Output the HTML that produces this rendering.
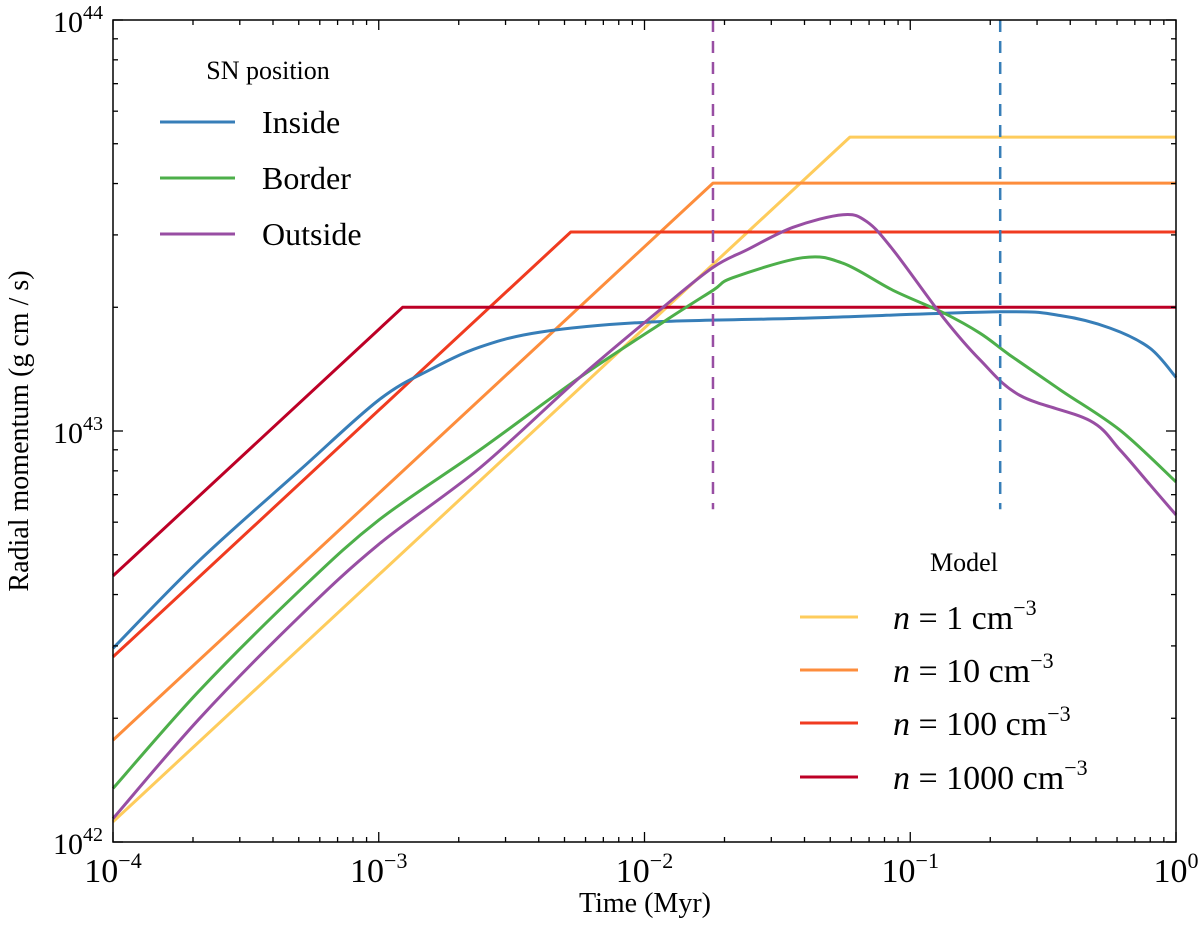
<!DOCTYPE html>
<html><head><meta charset="utf-8"><style>
body{margin:0;background:#fff;overflow:hidden}
svg text{font-family:"Liberation Serif",serif;fill:#000}
</style></head><body>
<svg id="chart" width="1200" height="927" xmlns="http://www.w3.org/2000/svg"></svg>
<script>
const xTickExps=[-4,-3,-2,-1,0];
const yTickExps=[42,43,44];
const insideT=[1e-4,2.12e-4,5.06e-4,1e-3,1.56e-3,2.4e-3,4.05e-3,1.02e-2,0.0385,0.218,0.366,0.565,0.798,1];
const insideP=[2.96e42,4.85e42,8.04e42,1.19e43,1.41e43,1.60e43,1.74e43,1.84e43,1.88e43,1.95e43,1.91e43,1.78e43,1.59e43,1.35e43];
const borderT=[1e-4,2.12e-4,5.06e-4,1e-3,2.4e-3,5.71e-3,0.01175,0.0181,0.0215,0.0394,0.0558,0.0861,0.133,0.183,0.237,0.366,0.615,1];
const borderP=[1.35e42,2.34e42,4.10e42,6.07e42,8.99e42,1.35e43,1.84e43,2.20e43,2.36e43,2.64e43,2.56e43,2.20e43,1.94e43,1.73e43,1.53e43,1.26e43,1.005e43,7.52e42];
const outsideT=[1e-4,2.12e-4,5.06e-4,1e-3,2.4e-3,5.71e-3,0.01175,0.0181,0.0243,0.0362,0.0558,0.0687,0.0861,0.133,0.183,0.259,0.474,0.615,0.798,1];
const outsideP=[1.14e42,2.00e42,3.55e42,5.30e42,8.13e42,1.35e43,2.0e43,2.50e43,2.76e43,3.13e43,3.36e43,3.23e43,2.76e43,1.89e43,1.49e43,1.22e43,1.06e43,9.0e42,7.40e42,6.25e42];
const n1T=[1e-4,0.0593,1],n1P=[1.12e42,5.19e43,5.19e43];
const n10T=[1e-4,0.0181,1],n10P=[1.77e42,4.01e43,4.01e43];
const n100T=[1e-4,0.00528,1],n100P=[2.82e42,3.05e43,3.05e43];
const n1000T=[1e-4,0.00123,1],n1000P=[4.44e42,2.0e43,2.0e43];
const vlineT=[0.0181,0.218];
const vlineTopP=1e44, vlineBotP=6.45e42;

const L=113,R=1176,T=20,B=842;
const xs=t=>L+(Math.log10(t)+4)/4*(R-L);
const ys=p=>B-(Math.log10(p)-42)/2*(B-T);
const svg=document.getElementById('chart');
const NS='http://www.w3.org/2000/svg';
function mk(tag,attrs,parent){const e=document.createElementNS(NS,tag);for(const k in attrs)e.setAttribute(k,attrs[k]);(parent||svg).appendChild(e);return e;}

const plot=mk('g',{});


function pathStr(T_,P_,smooth){
  const pts=T_.map((t,i)=>[xs(t),ys(P_[i])]);
  if(!smooth) return pts.map((p,i)=>(i?'L':'M')+p[0].toFixed(1)+','+p[1].toFixed(1)).join(' ');
  let d='M'+pts[0][0].toFixed(1)+','+pts[0][1].toFixed(1);
  for(let i=0;i<pts.length-1;i++){
    const p0=pts[Math.max(0,i-1)],p1=pts[i],p2=pts[i+1],p3=pts[Math.min(pts.length-1,i+2)];
    const c1=[p1[0]+(p2[0]-p0[0])/6,p1[1]+(p2[1]-p0[1])/6];
    const c2=[p2[0]-(p3[0]-p1[0])/6,p2[1]-(p3[1]-p1[1])/6];
    d+=' C'+c1[0].toFixed(1)+','+c1[1].toFixed(1)+' '+c2[0].toFixed(1)+','+c2[1].toFixed(1)+' '+p2[0].toFixed(1)+','+p2[1].toFixed(1);
  }
  return d;
}
function line(T_,P_,color,name,smooth){
  const p=mk('path',{d:pathStr(T_,P_,smooth),fill:'none',stroke:color,'stroke-width':3,'stroke-linejoin':'round'},plot);
  
  
}
line(n1T,n1P,'#fecc5c','model-n1-line',false);
line(n10T,n10P,'#fd8d3c','model-n10-line',false);
line(n100T,n100P,'#f03b20','model-n100-line',false);
line(n1000T,n1000P,'#bd0026','model-n1000-line',false);
line(insideT,insideP,'#377eb8','inside-line',true);
line(borderT,borderP,'#4daf4a','border-line',true);
line(outsideT,outsideP,'#984ea3','outside-line',true);
const vcol=['#984ea3','#377eb8'];
vlineT.forEach((t,i)=>{
  const v=mk('line',{x1:xs(t),x2:xs(t),y1:ys(vlineTopP),y2:ys(vlineBotP),stroke:vcol[i],'stroke-width':2.5,'stroke-dasharray':'12,9'},plot);
  
  
});

const frame=mk('rect',{x:L,y:T,width:R-L,height:B-T,fill:'none',stroke:'#000','stroke-width':1.5});


const tg=mk('g',{stroke:'#000','stroke-width':1.3});


xTickExps.forEach((e,i)=>{
  const x=xs(Math.pow(10,e));
  mk('line',{x1:x,x2:x,y1:B,y2:B-10},tg);mk('line',{x1:x,x2:x,y1:T,y2:T+10},tg);
  if(i<xTickExps.length-1)for(let m=2;m<10;m++){const xm=xs(m*Math.pow(10,e));mk('line',{x1:xm,x2:xm,y1:B,y2:B-5},tg);mk('line',{x1:xm,x2:xm,y1:T,y2:T+5},tg);}
  const tx=mk('text',{x:x,y:B+40,'font-size':34,'text-anchor':'middle'});
  
  
  tx.innerHTML='10<tspan dy="-14" font-size="22">'+(e<0?'\u2212'+(-e):e)+'</tspan>';
});
yTickExps.forEach((e,i)=>{
  const y=ys(Math.pow(10,e));
  mk('line',{x1:L,x2:L+10,y1:y,y2:y},tg);mk('line',{x1:R,x2:R-10,y1:y,y2:y},tg);
  if(i<yTickExps.length-1)for(let m=2;m<10;m++){const ym=ys(m*Math.pow(10,e));mk('line',{x1:L,x2:L+5,y1:ym,y2:ym},tg);mk('line',{x1:R,x2:R-5,y1:ym,y2:ym},tg);}
  const tx=mk('text',{x:L-10,y:y+12,'font-size':30,'text-anchor':'end'});
  
  
  tx.innerHTML='10<tspan dy="-13" font-size="20">'+e+'</tspan>';
});
function add(html){svg.insertAdjacentHTML('beforeend',html);}
add('<text x="645" y="912" font-size="28" text-anchor="middle">Time (Myr)</text>');
add('<text x="28" y="431" font-size="28" text-anchor="middle" transform="rotate(-90 28 431)">Radial momentum (g cm / s)</text>');
add('<g>'+
'<text x="268" y="79" font-size="26" text-anchor="middle">SN position</text>'+
'<line x1="160" x2="235" y1="122" y2="122" stroke="#377eb8" stroke-width="3"/><text x="262" y="133" font-size="32">Inside</text>'+
'<line x1="160" x2="235" y1="178" y2="178" stroke="#4daf4a" stroke-width="3"/><text x="262" y="189" font-size="32">Border</text>'+
'<line x1="160" x2="235" y1="234" y2="234" stroke="#984ea3" stroke-width="3"/><text x="262" y="245" font-size="32">Outside</text></g>');
const mdl=[['1','#fecc5c',617],['10','#fd8d3c',670],['100','#f03b20',723],['1000','#bd0026',777]];
let h='<g><text x="964" y="571" font-size="26" text-anchor="middle">Model</text>';
mdl.forEach(m=>{h+='<line x1="800" x2="858" y1="'+m[2]+'" y2="'+m[2]+'" stroke="'+m[1]+'" stroke-width="3"/><text x="893" y="'+(m[2]+12)+'" font-size="34"><tspan font-style="italic">n</tspan> = '+m[0]+' cm<tspan dy="-14" font-size="22">\u22123</tspan></text>';});
add(h+'</g>');
</script>
</body></html>
